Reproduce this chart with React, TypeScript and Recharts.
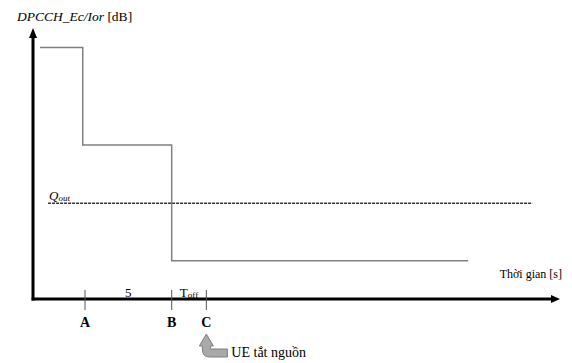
import React from 'react'
import {
  LineChart,
  Line,
  XAxis,
  YAxis,
  ReferenceLine,
  ReferenceDot,
} from 'recharts'

// step profile of DPCCH Ec/Ior over time
const stepTimes = [0.4, 2.87, 8, 25.1]
const stepLevels = [14.38, 8.81, 2.19, 2.19]

// Q_out threshold
const qOutLevel = 5.47
const qOutStart = 0.87
const qOutEnd = 28.8

// event marks on the time axis
const markTimes = [3, 8, 10]
const markLabels = ['A', 'B', 'C']

// span annotations between marks
const spanCenters = [5.5, 9]
const spanLabels = ['5', 'T_off']

const xMax = 30.4
const yMax = 15.5

const serif = '"Liberation Serif", "Times New Roman", serif'

const stepData = stepTimes.map((t, i) => ({ t, level: stepLevels[i] }))

export default function App() {
  const labelFor = (v: number) => markLabels[markTimes.indexOf(v)] ?? ''

  return (
    <div style={{ position: 'absolute', left: 0, top: 0, width: 572, height: 363, background: '#fff' }}>
      <div
        style={{
          position: 'absolute',
          left: 17,
          top: 9,
          fontFamily: serif,
          fontSize: 13.5,
          lineHeight: '16px',
          color: '#000',
        }}
      >
        <i>DPCCH_Ec/Ior</i> [dB]
      </div>
      <LineChart
        width={572}
        height={363}
        data={stepData}
        margin={{ top: 28, right: 12, left: 33, bottom: 24 }}
      >
        <XAxis
          type="number"
          dataKey="t"
          domain={[0, xMax]}
          allowDataOverflow
          ticks={markTimes}
          tickFormatter={labelFor}
          axisLine={false}
          tickLine={false}
          tickMargin={12}
          height={40}
          tick={{ fill: '#000', fontSize: 14, fontWeight: 'bold', fontFamily: serif }}
        />
        <YAxis type="number" domain={[0, yMax]} hide allowDataOverflow />

        {/* axes */}
        <ReferenceLine
          segment={[{ x: -0.08, y: 0 }, { x: xMax - 0.45, y: 0 }]}
          stroke="#000"
          strokeWidth={3}
          ifOverflow="visible"
        />
        <ReferenceLine
          segment={[{ x: 0, y: -0.08 }, { x: 0, y: yMax - 0.5 }]}
          stroke="#000"
          strokeWidth={3}
          ifOverflow="visible"
        />
        <ReferenceDot
          x={xMax}
          y={0}
          ifOverflow="visible"
          shape={(p: any) => (
            <path d={`M${p.cx},${p.cy} L${p.cx - 9},${p.cy - 4} L${p.cx - 9},${p.cy + 4} Z`} fill="#000" />
          )}
        />
        <ReferenceDot
          x={0}
          y={yMax}
          ifOverflow="visible"
          shape={(p: any) => (
            <path d={`M${p.cx},${p.cy} L${p.cx - 4},${p.cy + 10} L${p.cx + 4},${p.cy + 10} Z`} fill="#000" />
          )}
        />

        {/* tick marks crossing the time axis */}
        {markTimes.map((t) => (
          <ReferenceLine
            key={t}
            segment={[{ x: t, y: -0.63 }, { x: t, y: 0.52 }]}
            stroke="#555"
            strokeWidth={1}
            ifOverflow="visible"
          />
        ))}

        {/* span labels */}
        {spanCenters.map((t, i) => {
          const [main, sub] = spanLabels[i].split('_')
          return (
            <ReferenceDot
              key={t}
              x={t}
              y={0.11}
              ifOverflow="visible"
              shape={(p: any) => (
                <text x={p.cx} y={p.cy} textAnchor="middle" fontFamily={serif} fontSize={13} fill="#000">
                  {main}
                  {sub && <tspan fontSize={9} dy={1}>{sub}</tspan>}
                </text>
              )}
            />
          )
        })}

        {/* Q_out threshold */}
        <ReferenceLine
          segment={[{ x: qOutStart, y: qOutLevel }, { x: qOutEnd, y: qOutLevel }]}
          stroke="#333"
          strokeWidth={1.5}
          strokeDasharray="3 1"
        />
        <ReferenceDot
          x={qOutStart}
          y={qOutLevel}
          ifOverflow="visible"
          shape={(p: any) => (
            <text x={p.cx + 1} y={p.cy - 3} fontFamily={serif} fontStyle="italic" fontSize={13} fill="#000">
              Q<tspan fontSize={9} dy={1}>out</tspan>
            </text>
          )}
        />

        {/* axis title */}
        <ReferenceDot
          x={xMax}
          y={1.2}
          ifOverflow="visible"
          shape={(p: any) => (
            <text x={p.cx + 2} y={p.cy} textAnchor="end" fontFamily={serif} fontSize={12} fill="#000">
              Thời gian [s]
            </text>
          )}
        />

        {/* UE power-off pointer */}
        <ReferenceDot
          x={markTimes[2]}
          y={0}
          ifOverflow="visible"
          shape={(p: any) => {
            const x = p.cx
            const y = p.cy
            return (
              <g>
                <path
                  d={`M${x},${y + 35} L${x + 7},${y + 47} L${x + 4},${y + 47} L${x + 4},${y + 50} L${x + 21},${y + 50} L${x + 21},${y + 58} L${x + 3},${y + 58} Q${x - 4},${y + 58} ${x - 4},${y + 50} L${x - 4},${y + 47} L${x - 7},${y + 47} Z`}
                  fill="#a9a9a9"
                  stroke="#7f7f7f"
                  strokeWidth={1}
                />
                <text x={x + 25} y={y + 58} fontFamily={serif} fontSize={14} fill="#000">
                  UE tắt nguồn
                </text>
              </g>
            )
          }}
        />

        <Line
          type="stepAfter"
          dataKey="level"
          stroke="#808080"
          strokeWidth={1.5}
          dot={false}
          activeDot={false}
          isAnimationActive={false}
        />
      </LineChart>
    </div>
  )
}
